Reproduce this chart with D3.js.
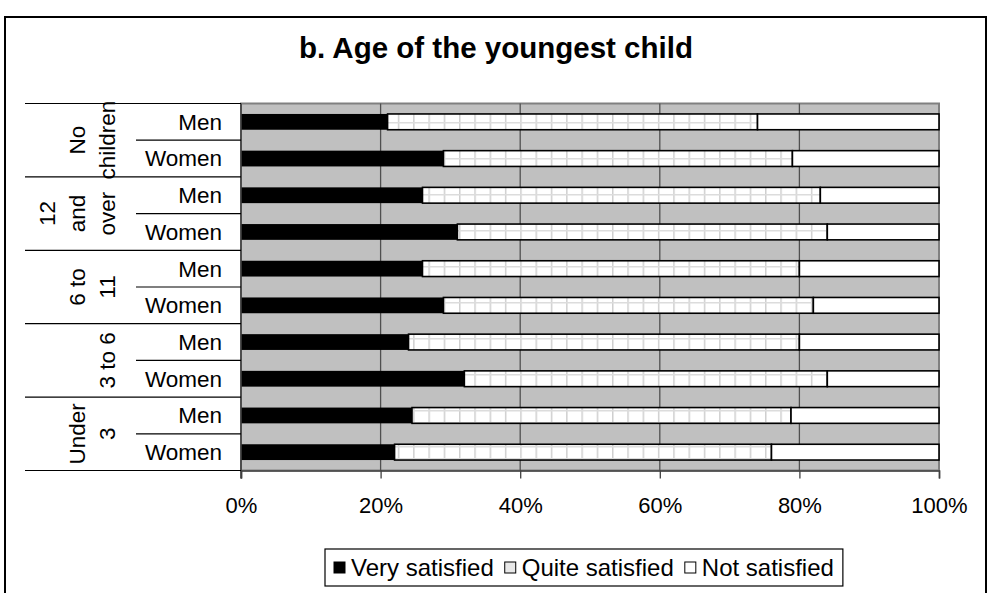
<!DOCTYPE html>
<html><head><meta charset="utf-8">
<script src="https://cdn.jsdelivr.net/npm/d3@7"></script>
<style>
html,body{margin:0;padding:0;background:#fff;}
svg text{font-family:"Liberation Sans",Arial,sans-serif;fill:#000;}
</style></head>
<body><svg id="c" width="991" height="593"></svg>
<script>
// ---- data ----
const groups = ["No children", "12 and over", "6 to 11", "3 to 6", "Under 3"];
const groupLines = [["No", "children"], ["12", "and", "over"], ["6 to", "11"], ["3 to 6"], ["Under", "3"]];
const sexes = ["Men", "Women"];
const seriesNames = ["Very satisfied", "Quite satisfied", "Not satisfied"];
const verySatisfied  = [21, 29, 26, 31, 26, 29, 24, 32, 24.5, 22];
const quiteSatisfied = [53, 50, 57, 53, 54, 53, 56, 52, 54.3, 54];
const notSatisfied   = [26, 21, 17, 16, 20, 18, 20, 16, 21.2, 24];
const xTicks = [0, 20, 40, 60, 80, 100];
const title = "b. Age of the youngest child";

// ---- build rows ----
const rows = [];
groups.forEach((g, gi) => sexes.forEach((s, si) => {
  const i = gi * 2 + si;
  rows.push({key: g + "|" + s, group: g, sex: s, vals: [verySatisfied[i], quiteSatisfied[i], notSatisfied[i]]});
}));

const svg = d3.select("#c");
const pLeft = 241, pRight = 939, pTop = 103.5, pBottom = 470.5;

const x = d3.scaleLinear().domain([0, 100]).range([pLeft, pRight]);
const y = d3.scaleBand().domain(rows.map(r => r.key)).range([pTop, pBottom]).paddingInner(0.57).paddingOuter(0.285);
const gy = d3.scaleBand().domain(groups).range([pTop, pBottom]);

// pattern for Quite satisfied
const defs = svg.append("defs");
const pat = defs.append("pattern").attr("id", "grid").attr("patternUnits", "userSpaceOnUse")
  .attr("width", 15.3).attr("height", 12).attr("x", 0).attr("y", 2);
pat.append("rect").attr("width", 15.3).attr("height", 12).attr("fill", "#fff");
pat.append("line").attr("x1", 0.75).attr("x2", 0.75).attr("y1", 0).attr("y2", 12).attr("stroke", "#cfcfcf").attr("stroke-width", 1.5);
pat.append("line").attr("x1", 0).attr("x2", 15.3).attr("y1", 0.75).attr("y2", 0.75).attr("stroke", "#dcdcdc").attr("stroke-width", 1.5);

// outer frame
svg.append("rect").attr("x", 5).attr("y", 17).attr("width", 981).attr("height", 590)
  .attr("fill", "none").attr("stroke", "#000").attr("stroke-width", 2);

// title
svg.append("text").attr("x", 496).attr("y", 58).attr("text-anchor", "middle")
  .style("font-size", "29.5px").style("font-weight", "bold").text(title);

// plot background
svg.append("rect").attr("x", pLeft).attr("y", pTop).attr("width", pRight - pLeft).attr("height", pBottom - pTop)
  .attr("fill", "#c0c0c0").attr("stroke", "#808080").attr("stroke-width", 2);

// gridlines
svg.append("g").selectAll("line").data(xTicks.filter(t => t > 0 && t < 100)).join("line")
  .attr("x1", d => x(d)).attr("x2", d => x(d)).attr("y1", pTop).attr("y2", pBottom)
  .attr("stroke", "#505050").attr("stroke-width", 1.3);

// bars
const fills = ["#000", "url(#grid)", "#fff"];
const barG = svg.append("g");
rows.forEach(r => {
  let acc = 0;
  r.vals.forEach((v, k) => {
    barG.append("rect").attr("x", x(acc)).attr("y", y(r.key)).attr("width", x(acc + v) - x(acc))
      .attr("height", y.bandwidth()).attr("fill", fills[k])
      .attr("stroke", "#000").attr("stroke-width", k === 0 ? 0 : 1.6);
    acc += v;
  });
});

// x axis
const xAxis = d3.axisBottom(x).tickValues(xTicks).tickFormat(d => d + "%").tickSize(8).tickPadding(19);
const xg = svg.append("g").attr("transform", `translate(0,${pBottom})`).call(xAxis);
xg.attr("font-family", null).attr("font-size", null);
xg.select(".domain").attr("stroke", "#404040").attr("stroke-width", 1.6);
xg.selectAll(".tick line").attr("stroke", "#404040").attr("stroke-width", 1.3);
xg.selectAll(".tick text").style("font-size", "22px").attr("fill", "#000");

// left axis line
svg.append("line").attr("x1", pLeft).attr("x2", pLeft).attr("y1", pTop).attr("y2", pBottom + 8)
  .attr("stroke", "#404040").attr("stroke-width", 1.6);

// category separators
const catG = svg.append("g");
const groupBounds = groups.map(g => gy(g)).concat([pBottom]);
catG.selectAll("line.g").data(groupBounds).join("line")
  .attr("x1", 25).attr("x2", pLeft).attr("y1", d => d).attr("y2", d => d)
  .attr("stroke", "#000").attr("stroke-width", 1.2);
catG.selectAll("line.s").data(groups).join("line")
  .attr("x1", 136).attr("x2", pLeft).attr("y1", d => gy(d) + gy.bandwidth() / 2).attr("y2", d => gy(d) + gy.bandwidth() / 2)
  .attr("stroke", "#000").attr("stroke-width", 1.2);

// sex labels
catG.selectAll("text.sex").data(rows).join("text")
  .attr("x", 222).attr("y", d => y(d.key) + y.bandwidth() / 2).attr("dy", "0.35em")
  .attr("text-anchor", "end").style("font-size", "22.5px").text(d => d.sex);

// group labels (rotated)
groups.forEach((g, gi) => {
  const lines = groupLines[gi];
  const cy = gy(g) + gy.bandwidth() / 2;
  lines.forEach((ln, li) => {
    const cx = 107 - (lines.length - 1 - li) * 30;
    catG.append("text").attr("transform", `translate(${cx},${cy}) rotate(-90)`)
      .attr("text-anchor", "middle").attr("dy", "0.35em").style("font-size", "22.5px").text(ln);
  });
});

// legend
const legG = svg.append("g");
const legBox = legG.append("rect").attr("y", 549).attr("height", 37).attr("fill", "#fff")
  .attr("stroke", "#000").attr("stroke-width", 1.2);
let lx = 334;
seriesNames.forEach((n, k) => {
  legG.append("rect").attr("x", lx).attr("y", 562).attr("width", 11).attr("height", 11)
    .attr("fill", k === 1 ? "#e8e8e8" : fills[k]).attr("stroke", "#000").attr("stroke-width", 1);
  const t = legG.append("text").attr("x", lx + 17).attr("y", 568).attr("dy", "0.35em")
    .style("font-size", "24px").text(n);
  lx += 17 + t.node().getComputedTextLength() + 11;
});
legBox.attr("x", 325).attr("width", lx - 11 + 9 - 325);
</script></body></html>
